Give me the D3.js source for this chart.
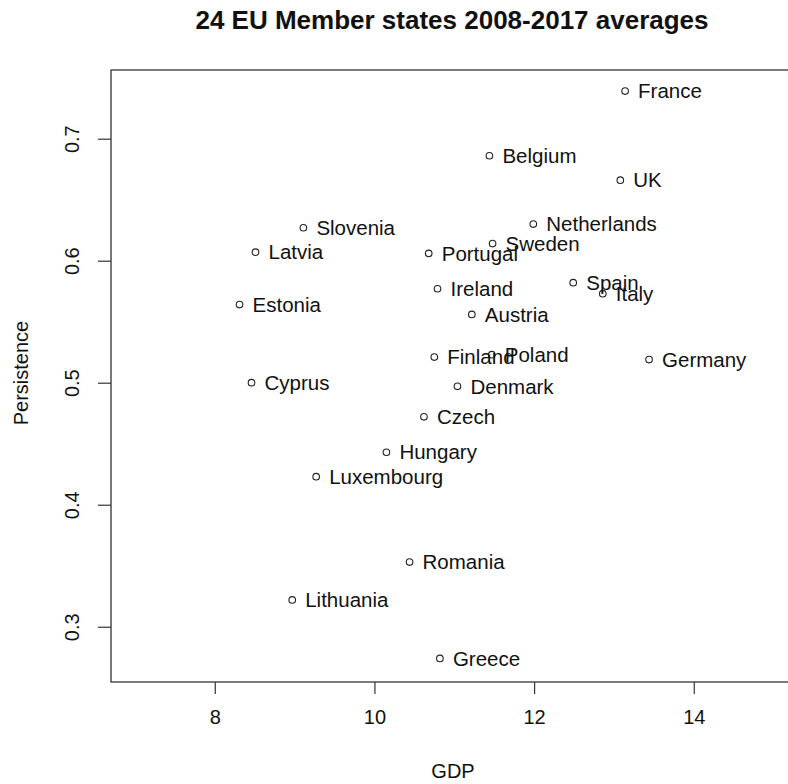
<!DOCTYPE html>
<html>
<head>
<meta charset="utf-8">
<script src="https://cdn.jsdelivr.net/npm/d3@7"></script>
<style>
  html, body { margin: 0; padding: 0; background: #fff; }
  svg { display: block; font-family: "Liberation Sans", Arial, sans-serif; }
</style>
</head>
<body>
<svg id="chart" width="788" height="784"></svg>
<script>
const countries = ["France","Belgium","UK","Netherlands","Sweden","Slovenia","Latvia","Portugal",
  "Estonia","Ireland","Spain","Italy","Austria","Finland","Poland","Germany","Cyprus","Denmark",
  "Czech","Hungary","Luxembourg","Romania","Lithuania","Greece"];
const gdp = [13.14, 11.44, 13.08, 11.99, 11.48, 9.11, 8.51, 10.68,
  8.31, 10.79, 12.49, 12.86, 11.22, 10.75, 11.47, 13.44, 8.46, 11.04,
  10.62, 10.15, 9.27, 10.44, 8.97, 10.82];
const persistence = [0.739, 0.686, 0.666, 0.630, 0.614, 0.627, 0.607, 0.606,
  0.564, 0.577, 0.582, 0.573, 0.556, 0.521, 0.523, 0.519, 0.500, 0.497,
  0.472, 0.443, 0.423, 0.353, 0.322, 0.274];
const xTicks = [8, 10, 12, 14];
const yTicks = [0.3, 0.4, 0.5, 0.6, 0.7];
const title = "24 EU Member states 2008-2017 averages";
const xTitle = "GDP";
const yTitle = "Persistence";

const svg = d3.select("#chart");
const mLeft = 111, mTop = 70, mBottom = 682, pxPerUnit = 79.83;
const xDomain = [6.7, 15.3];
const x = d3.scaleLinear().domain(xDomain).range([mLeft, mLeft + (xDomain[1] - xDomain[0]) * pxPerUnit]);
const y = d3.scaleLinear().domain([0.2547, 0.7563]).range([mBottom, mTop]);
const mRight = x(xDomain[1]);

// frame
svg.append("rect")
  .attr("x", mLeft).attr("y", mTop)
  .attr("width", mRight - mLeft).attr("height", mBottom - mTop)
  .attr("fill", "none").attr("stroke", "#333").attr("stroke-width", 1.3);

// x axis
const xAxis = d3.axisBottom(x).tickValues(xTicks).tickSize(12).tickPadding(16).tickFormat(d3.format("d"));
const gx = svg.append("g").attr("transform", `translate(0,${mBottom})`).call(xAxis);
gx.select(".domain").remove();
gx.selectAll(".tick line").attr("stroke", "#333").attr("stroke-width", 1.2);
gx.selectAll(".tick text").attr("font-size", 20).attr("fill", "#111")
  .attr("font-family", "Liberation Sans, Arial, sans-serif");

// y axis
const yAxis = d3.axisLeft(y).tickValues(yTicks).tickSize(13).tickFormat(d3.format(".1f"));
const gy = svg.append("g").attr("transform", `translate(${mLeft},0)`).call(yAxis);
gy.select(".domain").remove();
gy.selectAll(".tick line").attr("stroke", "#333").attr("stroke-width", 1.2);
gy.selectAll(".tick text").remove();
gy.selectAll(".tick").append("text")
  .attr("transform", "translate(-39,0) rotate(-90)")
  .attr("text-anchor", "middle")
  .attr("dy", "0.35em")
  .attr("font-size", 20).attr("fill", "#111")
  .attr("font-family", "Liberation Sans, Arial, sans-serif")
  .text(d => d3.format(".1f")(d));

// points
const data = countries.map((c, i) => ({name: c, gx: gdp[i], p: persistence[i]}));
svg.append("g").selectAll("circle").data(data).join("circle")
  .attr("cx", d => x(d.gx)).attr("cy", d => y(d.p)).attr("r", 3.3)
  .attr("fill", "none").attr("stroke", "#222").attr("stroke-width", 1.1);

svg.append("g").selectAll("text").data(data).join("text")
  .attr("x", d => x(d.gx) + 13).attr("y", d => y(d.p))
  .attr("dy", "0.35em")
  .attr("font-size", 20.5).attr("fill", "#111")
  .text(d => d.name);

// titles
svg.append("text").attr("x", 452).attr("y", 29)
  .attr("text-anchor", "middle").attr("font-size", 26).attr("font-weight", "bold").attr("fill", "#111")
  .text(title);
svg.append("text").attr("x", 453).attr("y", 778)
  .attr("text-anchor", "middle").attr("font-size", 20).attr("fill", "#111")
  .text(xTitle);
svg.append("text").attr("transform", "translate(28,373) rotate(-90)")
  .attr("text-anchor", "middle").attr("font-size", 20).attr("fill", "#111")
  .text(yTitle);
</script>
</body>
</html>
